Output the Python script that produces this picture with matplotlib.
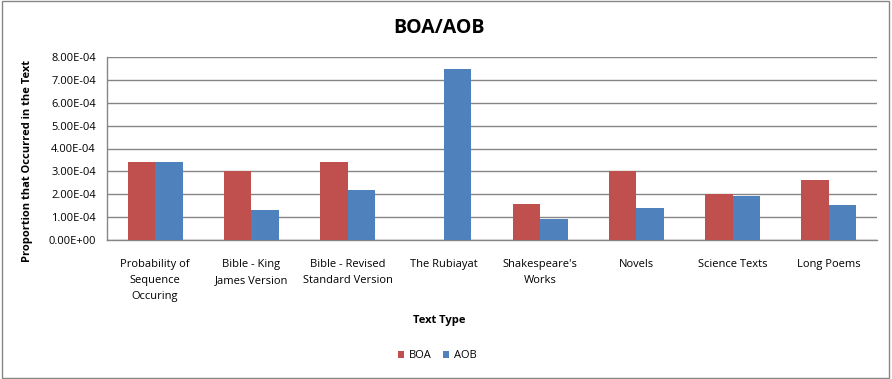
import matplotlib
matplotlib.use("Agg")
import matplotlib.pyplot as plt
import numpy as np
from matplotlib.patches import Rectangle

plt.rcParams['font.family'] = ['Open Sans', 'DejaVu Sans']

categories = ["Probability of\nSequence\nOccuring", "Bible - King\nJames Version",
              "Bible - Revised\nStandard Version", "The Rubiayat",
              "Shakespeare's\nWorks", "Novels", "Science Texts", "Long Poems"]
boa = [3.40e-4, 3.00e-4, 3.40e-4, 0.0, 1.57e-4, 3.00e-4, 2.00e-4, 2.62e-4]
aob = [3.40e-4, 1.31e-4, 2.18e-4, 7.47e-4, 0.92e-4, 1.40e-4, 1.91e-4, 1.53e-4]
yticks = [0, 1e-4, 2e-4, 3e-4, 4e-4, 5e-4, 6e-4, 7e-4, 8e-4]
ytick_labels = ["0.00E+00", "1.00E-04", "2.00E-04", "3.00E-04", "4.00E-04",
                "5.00E-04", "6.00E-04", "7.00E-04", "8.00E-04"]

red = "#C0504D"
blue = "#4F81BD"
grid = "#868686"

fig = plt.figure(figsize=(8.92, 3.79), dpi=100)
fig.patches.append(Rectangle((0.002, 0.003), 0.995, 0.994, transform=fig.transFigure,
                             fill=False, edgecolor="#868686", linewidth=1))
ax = fig.add_axes([107/892, 1-240/379, (877-107)/892, (240-57)/379])

x = np.arange(len(categories))
w = 0.286
ax.bar(x - w/2, boa, w, color=red, label="BOA", zorder=3)
ax.bar(x + w/2, aob, w, color=blue, label="AOB", zorder=3)

ax.set_xlim(-0.5, len(categories) - 0.5)
ax.set_ylim(0, 8e-4)
ax.set_yticks(yticks)
ax.set_yticklabels(ytick_labels, fontsize=8)
ax.set_xticks(x)
ax.set_xticklabels(categories, fontsize=8, linespacing=1.6, va="top")
ax.tick_params(axis="both", length=0, pad=8)
ax.tick_params(axis="x", pad=14)
ax.yaxis.grid(True, color=grid, linewidth=1, zorder=0)
for s in ["top", "right"]:
    ax.spines[s].set_visible(False)
for s in ["left", "bottom"]:
    ax.spines[s].set_color(grid)
    ax.spines[s].set_linewidth(1)

fig.text(28/892, 1 - 161/379, "Proportion that Occurred in the Text", fontsize=8,
         fontweight="bold", rotation=90, ha="center", va="center")
fig.text(0.5 - 0.008, 1 - 321/379, "Text Type", fontsize=8, fontweight="bold", ha="center", va="center")
fig.text(0.5 - 0.008, 1 - 28/379, "BOA/AOB", fontsize=14, fontweight="bold", ha="center", va="center")

fig.legend(loc="center", bbox_to_anchor=(0.49, 1 - 356/379), ncol=2, frameon=False,
           fontsize=8, handlelength=0.6, handleheight=0.6, handletextpad=0.4, columnspacing=1.0)

fig.savefig("out.png", dpi=100)
